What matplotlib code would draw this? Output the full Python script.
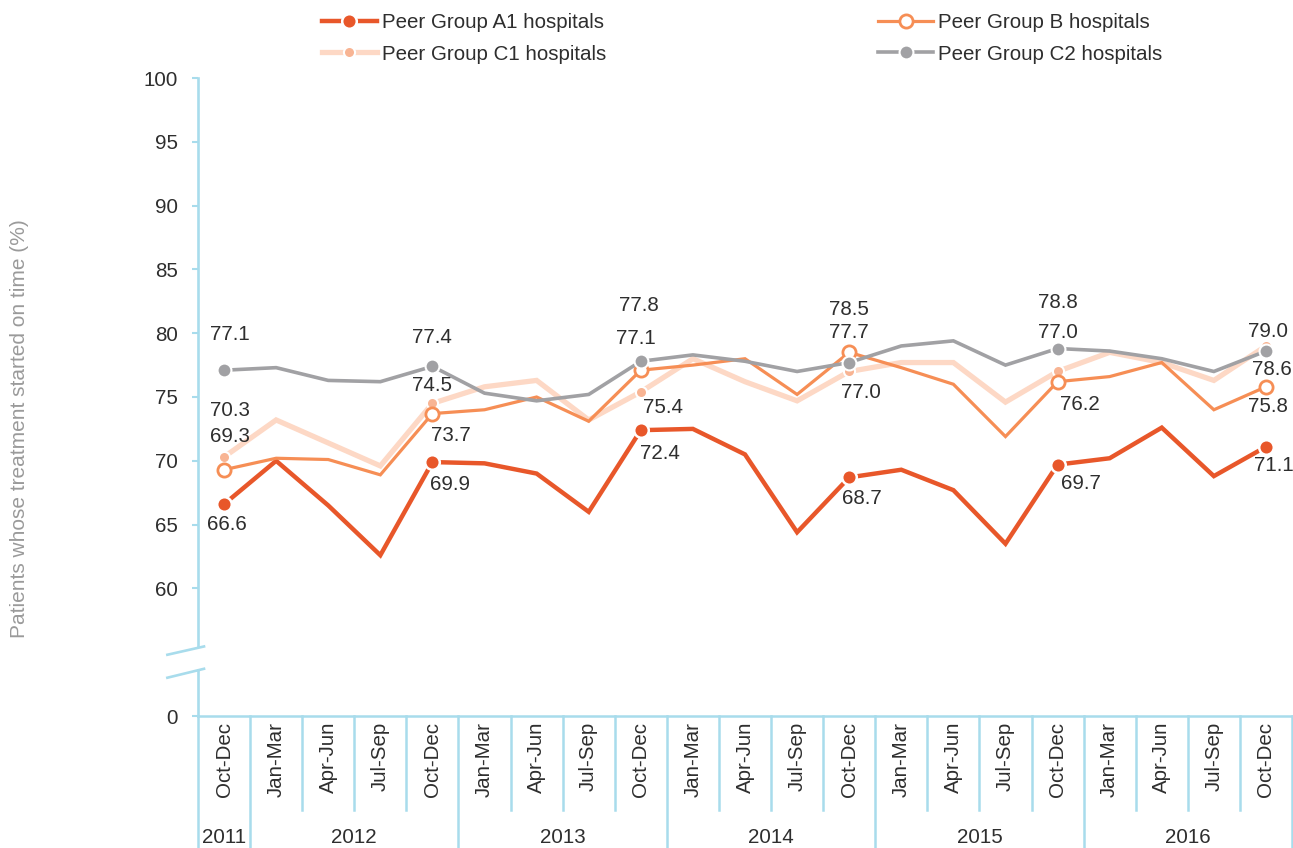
import matplotlib
matplotlib.use("Agg")
import matplotlib.pyplot as plt
import matplotlib.transforms as mtransforms
from matplotlib.lines import Line2D

plt.rcParams['font.family'] = ['Liberation Sans', 'DejaVu Sans']

# ---------------- data ----------------
quarters = ["Oct-Dec",
            "Jan-Mar", "Apr-Jun", "Jul-Sep", "Oct-Dec",
            "Jan-Mar", "Apr-Jun", "Jul-Sep", "Oct-Dec",
            "Jan-Mar", "Apr-Jun", "Jul-Sep", "Oct-Dec",
            "Jan-Mar", "Apr-Jun", "Jul-Sep", "Oct-Dec",
            "Jan-Mar", "Apr-Jun", "Jul-Sep", "Oct-Dec"]
years = ["2011", "2012", "2013", "2014", "2015", "2016"]
quarters_per_year = [1, 4, 4, 4, 4, 4]

a1 = [66.6, 70.0, 66.5, 62.6, 69.9, 69.8, 69.0, 66.0, 72.4, 72.5, 70.5,
      64.4, 68.7, 69.3, 67.7, 63.5, 69.7, 70.2, 72.6, 68.8, 71.1]
b = [69.3, 70.2, 70.1, 68.9, 73.7, 74.0, 75.0, 73.1, 77.1, 77.5, 78.0,
     75.2, 78.5, 77.3, 76.0, 71.9, 76.2, 76.6, 77.7, 74.0, 75.8]
c1 = [70.3, 73.2, 71.4, 69.6, 74.5, 75.8, 76.3, 73.2, 75.4, 78.0, 76.2,
      74.7, 77.0, 77.7, 77.7, 74.6, 77.0, 78.5, 77.7, 76.3, 79.0]
c2 = [77.1, 77.3, 76.3, 76.2, 77.4, 75.3, 74.7, 75.2, 77.8, 78.3, 77.8,
      77.0, 77.7, 79.0, 79.4, 77.5, 78.8, 78.6, 78.0, 77.0, 78.6]

series_names = ["Peer Group A1 hospitals", "Peer Group B hospitals",
                "Peer Group C1 hospitals", "Peer Group C2 hospitals"]
labelled_idx = [0, 4, 8, 12, 16, 20]

# ---------------- style ----------------
AX = "#A8DCEC"
TXT = "#2E2E2E"
FS = 14.8

# label offsets in pixels (dx right, dy down) for each labelled point
offs = {
    "A1": [(3, 20), (18, 22), (19, 23), (13, 21), (23, 19), (8, 19)],
    "B":  [(6, -33), (18, 22), (-5, -32), (0, -43), (22, 23), (2, 20)],
    "C1": [(6, -46), (0, -18), (22, 16), (12, 21), (0, -39), (2, -14)],
    "C2": [(6, -36), (0, -29), (-2, -56), (0, -30), (0, -46), (6, 18)],
}

styles = {
    "A1": dict(color="#E8572A", lw=3.2, marker="o", ms=10.5, mfc="#E8572A", mec="white", mew=1.8, z=3),
    "B":  dict(color="#F68E55", lw=2.3, marker="o", ms=9.5, mfc="white", mec="#F68E55", mew=2.0, z=4),
    "C1": dict(color="#FDD8C5", lw=3.8, marker="o", ms=8, mfc="#F8B493", mec="white", mew=1.5, z=2),
    "C2": dict(color="#A1A1A4", lw=2.6, marker="o", ms=10, mfc="#A1A1A4", mec="white", mew=1.5, z=5),
}

W, H = 1293, 848
fig = plt.figure(figsize=(W / 100, H / 100), dpi=100)
ax = fig.add_axes([198 / W, 1 - 716 / H, 1094 / W, 638 / H])

x = list(range(len(quarters)))
handles = {}
for key, vals, name in zip(["A1", "B", "C1", "C2"], [a1, b, c1, c2], series_names):
    s = styles[key]
    ln, = ax.plot(x, vals, color=s["color"], lw=s["lw"], marker=s["marker"],
                  ms=s["ms"], mfc=s["mfc"], mec=s["mec"], mew=s["mew"],
                  markevery=labelled_idx, zorder=s["z"], solid_joinstyle="miter",
                  label=name, clip_on=False)
    handles[key] = ln
    for (dx, dy), i in zip(offs[key], labelled_idx):
        ax.annotate(f"{vals[i]:.1f}", (x[i], vals[i]), xytext=(dx * 0.72, -dy * 0.72),
                    textcoords="offset points", ha="center", va="center",
                    fontsize=FS, color=TXT, zorder=10)

ax.set_xlim(-0.5, len(quarters) - 0.5)
ax.set_ylim(50, 100)
for sp in ["top", "right", "left"]:
    ax.spines[sp].set_visible(False)
ax.spines["bottom"].set_color(AX)
ax.spines["bottom"].set_linewidth(1.8)

yt = [50, 60, 65, 70, 75, 80, 85, 90, 95, 100]
ax.set_yticks(yt)
ax.set_yticklabels(["0"] + [str(v) for v in yt[1:]])
ax.tick_params(axis="y", color=AX, length=4.5, width=1.5, labelsize=FS,
               labelcolor=TXT, pad=10)

ax.set_xticks(x)
ax.set_xticklabels(quarters, rotation=90, fontsize=FS, color=TXT)
ax.tick_params(axis="x", length=0, pad=4)

# broken left axis
bt = mtransforms.blended_transform_factory(ax.transAxes, ax.transData)
ax.add_line(Line2D([0, 0], [55.45, 100], transform=bt, color=AX, lw=1.9, clip_on=False))
ax.add_line(Line2D([0, 0], [50, 53.57], transform=bt, color=AX, lw=1.9, clip_on=False))
ax.add_line(Line2D([-0.028, 0.0055], [54.8, 55.45], transform=bt, color=AX, lw=1.9, clip_on=False))
ax.add_line(Line2D([-0.028, 0.0055], [53.0, 53.7], transform=bt, color=AX, lw=1.9, clip_on=False))

# category separators and year labels
xt = mtransforms.blended_transform_factory(ax.transData, ax.transAxes)
year_bounds = [-0.5]
for n in quarters_per_year:
    year_bounds.append(year_bounds[-1] + n)
for i in range(len(quarters) + 1):
    xb = i - 0.5
    bottom = -0.21 if xb in year_bounds else -0.147
    ax.add_line(Line2D([xb, xb], [0, bottom], transform=xt, color=AX, lw=1.8, clip_on=False))
for yr, lo, hi in zip(years, year_bounds[:-1], year_bounds[1:]):
    ax.text((lo + hi) / 2, -0.19, yr, transform=xt, ha="center", va="center",
            fontsize=FS, color=TXT)

fig.text(20 / W, 1 - 429 / H, "Patients whose treatment started on time (%)",
         rotation=90, ha="center", va="center", fontsize=15, color="#9A9A9A")

order = ["A1", "C1", "B", "C2"]
fig.legend([handles[k] for k in order], [handles[k].get_label() for k in order],
           ncol=2, loc="center", bbox_to_anchor=(0.574, 0.955), frameon=False,
           handlelength=2.7, handletextpad=0.25, columnspacing=13.2, fontsize=FS,
           labelspacing=0.62, labelcolor=TXT)

fig.savefig("out.png", dpi=100)
